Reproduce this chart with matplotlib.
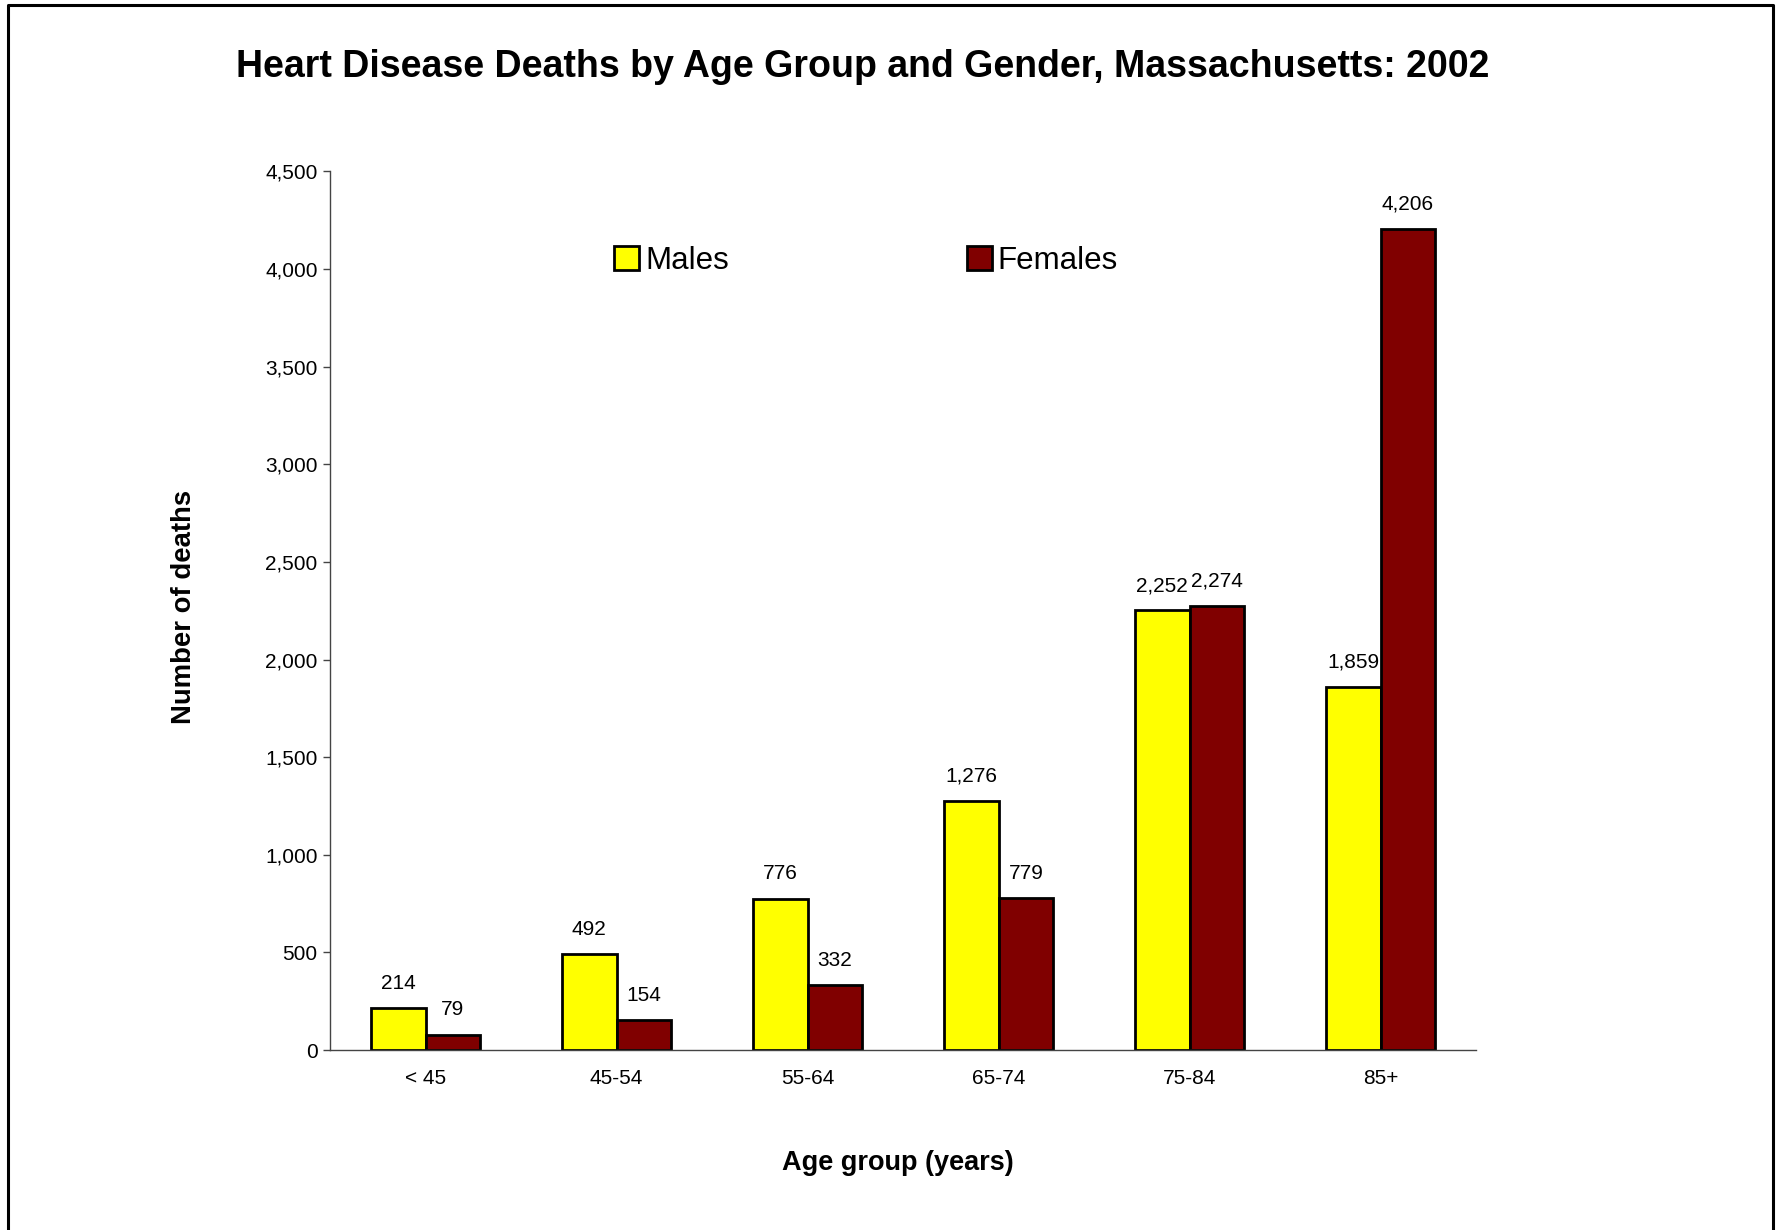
import numpy as np
import matplotlib.pyplot as plt
from matplotlib.lines import Line2D

plt.rcParams['font.family'] = ['Liberation Sans', 'DejaVu Sans']

age_groups = ['< 45', '45-54', '55-64', '65-74', '75-84', '85+']
males = [214, 492, 776, 1276, 2252, 1859]
females = [79, 154, 332, 779, 2274, 4206]
yticks = [0, 500, 1000, 1500, 2000, 2500, 3000, 3500, 4000, 4500]

W, H = 1780, 1230
fig = plt.figure(figsize=(W/100, H/100), dpi=100)
ax = fig.add_axes([330/W, 1-1050/H, (1476-330)/W, (1050-171.5)/H])

x = np.arange(len(age_groups))
bw = 0.286
b1 = ax.bar(x - bw/2, males, bw, color='#ffff00', edgecolor='black', linewidth=2, label='Males')
b2 = ax.bar(x + bw/2, females, bw, color='#800000', edgecolor='black', linewidth=2, label='Females')

for bars, vals in ((b1, males), (b2, females)):
    for r, v in zip(bars, vals):
        ax.annotate(f'{v:,}', (r.get_x() + r.get_width()/2, r.get_height()),
                    xytext=(0, 11), textcoords='offset points',
                    ha='center', va='bottom', fontsize=15)

ax.set_xlim(-0.5, len(age_groups) - 0.5)
ax.set_ylim(0, 4500)
ax.set_xticks(x)
ax.set_xticklabels(age_groups, fontsize=15)
ax.set_yticks(yticks)
ax.set_yticklabels([f'{t:,}' for t in yticks], fontsize=15)
ax.tick_params(axis='x', length=0, pad=14)
ax.tick_params(axis='y', length=5, width=1, color='#444444', pad=4)
for s in ('top', 'right'):
    ax.spines[s].set_visible(False)
for s in ('left', 'bottom'):
    ax.spines[s].set_color('#444444')
    ax.spines[s].set_linewidth(1)

fig.legend(handles=[b1, b2], loc='center left', bbox_to_anchor=(614/W, 1-261/H),
           ncol=2, frameon=False, fontsize=22.5, handlelength=0.8, handleheight=0.8,
           handletextpad=0.2, columnspacing=7.6, borderpad=0, borderaxespad=0)

fig.text(863/W, 1-67/H, 'Heart Disease Deaths by Age Group and Gender, Massachusetts: 2002',
         ha='center', va='center', fontsize=27, fontweight='bold')
fig.text(184/W, 1-607/H, 'Number of deaths', rotation=90, ha='center', va='center',
         fontsize=19.8, fontweight='bold')
fig.text(898/W, 1-1163/H, 'Age group (years)', ha='center', va='center',
         fontsize=19.5, fontweight='bold')

# outer frame (left, top, right)
fx = [7.5/W, 7.5/W, 1773/W, 1773/W]
fy = [0, 1-5/H, 1-5/H, 0]
fig.add_artist(Line2D(fx, fy, color='black', linewidth=2.2, transform=fig.transFigure))

fig.savefig('out.png', dpi=100)
